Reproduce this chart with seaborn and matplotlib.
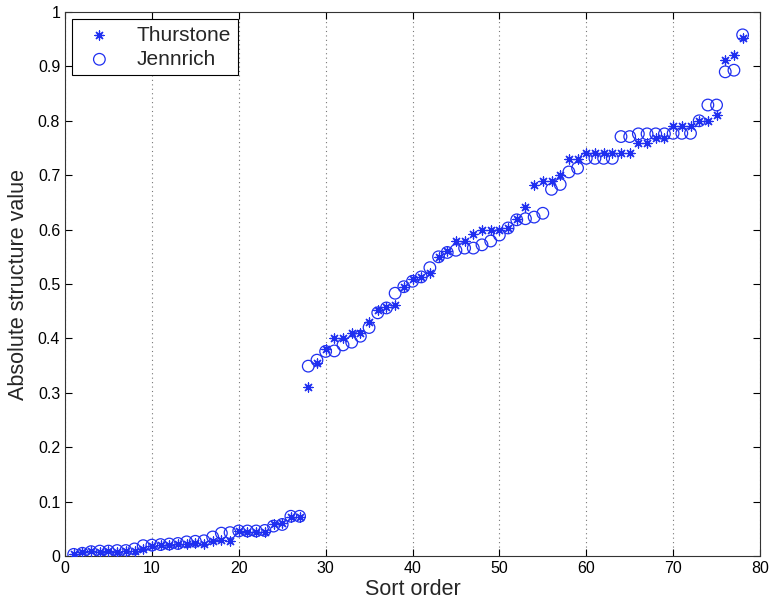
import numpy as np
import pandas as pd
import matplotlib
matplotlib.use("Agg")
import matplotlib.pyplot as plt
import seaborn as sns

sort_order = list(range(1, 79))

thurstone = [
    0.003, 0.008, 0.009, 0.008, 0.009, 0.008, 0.010, 0.010, 0.012, 0.018,
    0.020, 0.020, 0.022, 0.022, 0.024, 0.022, 0.027, 0.030, 0.028, 0.046,
    0.045, 0.045, 0.044, 0.058, 0.060, 0.071, 0.072,
    0.310, 0.355, 0.380, 0.400, 0.400, 0.410, 0.410, 0.430, 0.452, 0.458,
    0.461, 0.495, 0.510,
    0.513, 0.520, 0.550, 0.560, 0.579, 0.579, 0.592, 0.600, 0.600, 0.600,
    0.603, 0.620, 0.641, 0.682, 0.690,
    0.690, 0.700, 0.729, 0.729, 0.741, 0.741, 0.741, 0.741, 0.741, 0.741,
    0.760, 0.760, 0.768, 0.768, 0.790, 0.790, 0.790, 0.800, 0.800, 0.811,
    0.912, 0.921, 0.952,
]

jennrich = [
    0.003, 0.005, 0.008, 0.009, 0.009, 0.010, 0.010, 0.013, 0.019, 0.020,
    0.021, 0.022, 0.023, 0.026, 0.027, 0.028, 0.035, 0.042, 0.043, 0.046,
    0.046, 0.046, 0.047, 0.055, 0.058, 0.073, 0.073,
    0.349, 0.360, 0.376, 0.377, 0.388, 0.393, 0.404, 0.420, 0.447, 0.456,
    0.483, 0.495, 0.505,
    0.513, 0.530, 0.550, 0.558, 0.562, 0.566, 0.566, 0.572, 0.579, 0.590,
    0.603, 0.618, 0.620, 0.623, 0.630,
    0.674, 0.683, 0.706, 0.713, 0.731, 0.731, 0.731, 0.731, 0.771, 0.771,
    0.776, 0.776, 0.776, 0.776, 0.777, 0.777, 0.777, 0.800, 0.829, 0.829,
    0.890, 0.893, 0.958,
]

x_ticks = [0, 10, 20, 30, 40, 50, 60, 70, 80]
y_ticks = [0, 0.1, 0.2, 0.3, 0.4, 0.5, 0.6, 0.7, 0.8, 0.9, 1]
y_tick_labels = ["0", "0.1", "0.2", "0.3", "0.4", "0.5", "0.6", "0.7", "0.8", "0.9", "1"]

df_t = pd.DataFrame({"order": sort_order, "value": thurstone})
df_j = pd.DataFrame({"order": sort_order, "value": jennrich})

sns.set_style("white")
plt.rcParams["font.family"] = ["Liberation Sans", "DejaVu Sans"]

blue = "#1f2ff0"

fig, ax = plt.subplots(figsize=(7.7, 6.08), dpi=100)
fig.subplots_adjust(left=65/770, right=760/770, bottom=1-556/608, top=1-12/608)

sns.scatterplot(data=df_t, x="order", y="value", marker=(8, 2, 0), s=42,
                color=blue, linewidth=0.9, ax=ax, label="Thurstone", zorder=3)
sns.scatterplot(data=df_j, x="order", y="value", marker="o", s=70,
                facecolors="none", edgecolor=blue, linewidth=0.9, ax=ax,
                label="Jennrich", zorder=3)

ax.set_xlim(0, 80)
ax.set_ylim(0, 1)
ax.set_xticks(x_ticks)
ax.set_xticklabels([str(v) for v in x_ticks])
ax.set_yticks(y_ticks)
ax.set_yticklabels(y_tick_labels)
ax.tick_params(direction="in", length=5, width=0.8, labelsize=11.5,
               top=True, right=True, bottom=True, left=True, colors="black")
ax.xaxis.grid(True, linestyle=(0, (1, 3)), color="#777777", linewidth=0.8)
ax.yaxis.grid(False)
for s in ax.spines.values():
    s.set_visible(True)
    s.set_color("#333333")
    s.set_linewidth(0.8)

ax.set_xlabel("Sort order", fontsize=15.5, labelpad=2)
ax.set_ylabel("Absolute structure value", fontsize=15.5, labelpad=6)

leg = ax.legend(loc="upper left", fontsize=15, frameon=True, fancybox=False,
                edgecolor="black", framealpha=1, borderaxespad=0.35,
                handlelength=2.0, handletextpad=0.8, borderpad=0.3,
                labelspacing=0.25)
leg.get_frame().set_linewidth(0.8)

fig.savefig("out.png", dpi=100, facecolor="white")
